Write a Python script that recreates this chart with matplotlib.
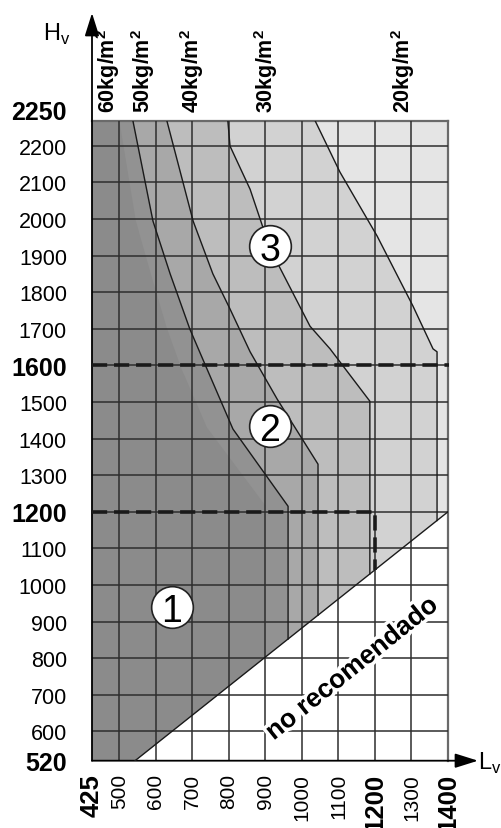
import numpy as np
import matplotlib.pyplot as plt
from matplotlib import patheffects

plt.rcParams['font.family'] = ['Liberation Sans', 'DejaVu Sans']
plt.rcParams['mathtext.fontset'] = 'custom'
plt.rcParams['mathtext.rm'] = 'Liberation Sans'
plt.rcParams['mathtext.bf'] = 'Liberation Sans:bold'

# Límites de peso (kg/m2): cada curva baja desde arriba y luego cae en vertical hasta la diagonal
pesos = ['60', '50', '40', '30', '20']
pesos_x = [468, 565, 699, 902, 1277]

curva_60_x = [500, 545, 585, 630, 670, 740, 900]
curva_60_y = [2250, 1995, 1854, 1702, 1591, 1430, 1217]
curva_50_x = [537, 592, 639, 693, 740, 811, 962]
curva_50_y = [2250, 1994, 1850, 1699, 1590, 1426, 1215]
curva_40_x = [630, 702, 756, 803, 858, 932, 1044]
curva_40_y = [2250, 1994, 1850, 1754, 1637, 1508, 1330]
curva_30_x = [797, 803, 858, 913, 1022, 1077, 1186]
curva_30_y = [2250, 2199, 2081, 1918, 1707, 1645, 1502]
curva_20_x = [1036, 1104, 1206, 1304, 1359, 1370]
curva_20_y = [2250, 2128, 1953, 1762, 1645, 1637]

# Diagonal de la zona "no recomendado"
diag_x = [543, 1400]
diag_y = [520, 1200]

# Zonas 1, 2 y 3
zonas = ['1', '2', '3']
zona_x = [644, 912, 912]
zona_y = [940, 1434, 1926]
limite_zona1 = 1200   # ancho y alto máximos de la zona 1
limite_zona2 = 1600   # alto máximo de la zona 2

x_ticks = [425, 500, 600, 700, 800, 900, 1000, 1100, 1200, 1300, 1400]
x_bold = [425, 1200, 1400]
y_ticks = [520, 600, 700, 800, 900, 1000, 1100, 1200, 1300, 1400, 1500,
           1600, 1700, 1800, 1900, 2000, 2100, 2200, 2250]
y_bold = [520, 1200, 1600, 2250]

xmin, xmax, ymin, ymax = 425, 1400, 520, 2250


# el último tramo (2200-2250) va más estirado que el resto
def estirar(y):
    y = np.asarray(y, dtype=float)
    return np.where(y <= 2200, y, 2200 + (y - 2200) * 1.366)


def encoger(t):
    t = np.asarray(t, dtype=float)
    return np.where(t <= 2200, t, 2200 + (t - 2200) / 1.366)


fig = plt.figure(figsize=(5.01, 8.29), dpi=100)
ax = fig.add_axes([92 / 501, 1 - 761.7 / 829, 356 / 501, 640 / 829])
ax.set_yscale('function', functions=(estirar, encoger))
ax.set_xlim(xmin, xmax)
ax.set_ylim(ymin, ymax)


def zona_izq(cx, cy):
    xd = cx[-1]
    yd = np.interp(xd, diag_x, diag_y)
    px = [xmin] + cx + [xd, diag_x[0], xmin]
    py = [ymax] + cy + [yd, diag_y[0], ymin]
    return px, py


# fondo: todo lo que queda por encima de la diagonal
ax.fill([xmin, xmax, diag_x[1], diag_x[0], xmin], [ymax, ymax, diag_y[1], diag_y[0], ymin],
        color='#e5e5e5', lw=0, zorder=1)

curvas = [(curva_20_x, curva_20_y, '#d2d2d2'),
          (curva_30_x, curva_30_y, '#bdbdbd'),
          (curva_40_x, curva_40_y, '#a8a8a8'),
          (curva_50_x, curva_50_y, '#929292'),
          (curva_60_x, curva_60_y, '#8b8b8b')]
for cx, cy, col in curvas:
    px, py = zona_izq(cx, cy)
    ax.fill(px, py, color=col, lw=0, zorder=1)

# cuadrícula
ax.vlines(range(500, 1400, 100), ymin, ymax, color='#2e2e2e', lw=1.1, zorder=3)
ax.hlines(range(600, 2250, 100), xmin, xmax, color='#2e2e2e', lw=1.1, zorder=3)

# líneas de peso (la de 60 solo marca el sombreado)
for cx, cy, col in curvas[:4]:
    yd = np.interp(cx[-1], diag_x, diag_y)
    ax.plot(cx + [cx[-1]], cy + [yd], color='#1a1a1a', lw=1.0, zorder=4)

ax.plot(diag_x, diag_y, color='#1a1a1a', lw=1.0, zorder=4)

# límites de zonas discontinuos
estilo = dict(color='#1a1a1a', lw=2.6, ls=(0, (4.2, 1.9)), zorder=5)
ax.plot([xmin, xmax + 4], [limite_zona2, limite_zona2], clip_on=False, **estilo)
y_corte = np.interp(limite_zona1, diag_x, diag_y)
ax.plot([xmin, limite_zona1, limite_zona1], [limite_zona1, limite_zona1, y_corte], **estilo)

# números de zona
for z, zx, zy in zip(zonas, zona_x, zona_y):
    ax.plot(zx, zy, 'o', ms=30, mfc='white', mec='#222222', mew=1.2, zorder=6)
    ax.text(zx, zy, z, fontsize=27, ha='center', va='center_baseline', zorder=7)

# texto de la zona no recomendada
ax.text(1137, 771, 'no recomendado', fontsize=19, fontweight='bold', rotation=38.8,
        ha='center', va='center', rotation_mode='anchor', zorder=6,
        path_effects=[patheffects.withStroke(linewidth=5, foreground='white')])

# etiquetas de las curvas de peso
for p, px in zip(pesos, pesos_x):
    ax.annotate(p + r'kg/m$^{\mathbf{2}}$', xy=(px, ymax), xycoords='data',
                xytext=(0, 6), textcoords='offset points', rotation=90, fontsize=15.5,
                fontweight='bold', ha='center', va='bottom', annotation_clip=False)

# ejes
for s in ['top', 'right']:
    ax.spines[s].set_color('#6a6a6a')
    ax.spines[s].set_linewidth(1.6)
for s in ['left', 'bottom']:
    ax.spines[s].set_visible(False)
flecha = dict(arrowstyle='-|>,head_length=0.7,head_width=0.22', color='black', lw=1.3,
              mutation_scale=20, shrinkA=0, shrinkB=0)
ax.annotate('', xy=(0, (761.7 - 14) / 640), xytext=(0, 0), xycoords='axes fraction',
            arrowprops=flecha, annotation_clip=False)
ax.annotate('', xy=((478 - 92) / 356, 0), xytext=(0, 0), xycoords='axes fraction',
            arrowprops=flecha, annotation_clip=False)

fig.text(57 / 501, 1 - 34 / 829, r'H$_\mathregular{v}$', fontsize=17, ha='center', va='center')
fig.text(490 / 501, 1 - 763 / 829, r'L$_\mathregular{v}$', fontsize=17, ha='center', va='center')

ax.set_xticks(x_ticks)
ax.set_xticklabels([str(v) for v in x_ticks], rotation=90)
ax.set_yticks(y_ticks)
# la etiqueta 2250 va un poco por encima del borde superior
ax.set_yticklabels(['' if v == ymax else str(v) for v in y_ticks])
ax.annotate(str(ymax), xy=(0, ymax), xycoords=('axes fraction', 'data'),
            xytext=(-18, 6), textcoords='offset points', ha='right', va='center',
            fontsize=18, fontweight='bold', annotation_clip=False)
ax.tick_params(axis='x', length=0, pad=9)
ax.tick_params(axis='y', length=0, pad=18)
for lab, v in zip(ax.get_xticklabels(), x_ticks):
    if v in x_bold:
        lab.set_fontweight('bold')
        lab.set_fontsize(18.5)
    else:
        lab.set_fontsize(15)
for lab, v in zip(ax.get_yticklabels(), y_ticks):
    if v in y_bold:
        lab.set_fontweight('bold')
        lab.set_fontsize(18)
    else:
        lab.set_fontsize(15.5)

fig.savefig('out.png', dpi=100)
